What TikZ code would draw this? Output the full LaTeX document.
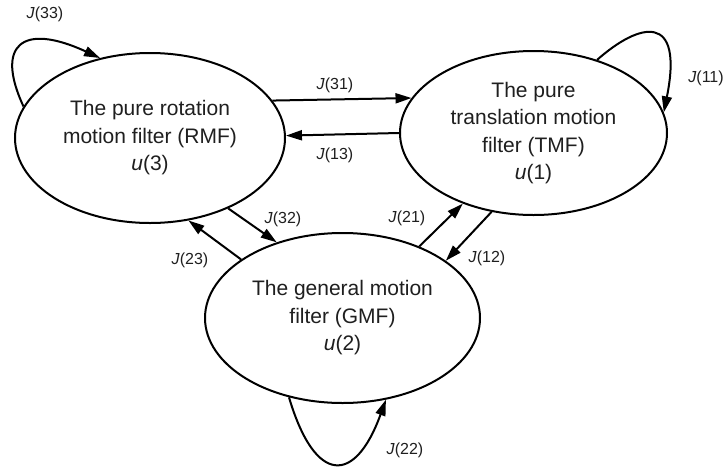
\documentclass[tikz,border=0pt]{standalone}
\usepackage{fontspec}
\setmainfont{Liberation Sans}
\usetikzlibrary{shapes.geometric,arrows.meta}
\begin{document}
\begin{tikzpicture}[x=1pt,y=-1pt,
  filt/.style={ellipse,draw,line width=2pt,inner sep=0pt,align=center,
    text=black!88,font=\fontsize{21}{27.5}\selectfont},
  lab/.style={font=\fontsize{16}{18}\selectfont,inner sep=0pt,text=black!88},
  arr/.style={line width=2pt,-{Triangle[length=16pt,width=10pt]}}]
\useasboundingbox[fill=white] (0,0) rectangle (726,469);
\node[filt,minimum width=270pt,minimum height=170pt] (RMF) at (150,138)
  {The pure rotation\\motion filter (RMF)\\\textit{u}(3)};
\node[filt,minimum width=267pt,minimum height=164pt] (TMF) at (533.5,133)
  {The pure\\translation motion\\filter (TMF)\\\textit{u}(1)};
\node[filt,minimum width=275pt,minimum height=170pt] (GMF) at (342.5,318)
  {The general motion\\filter (GMF)\\\textit{u}(2)};
% self loops
\draw[arr] (RMF.166.4) .. controls (-5,45) and (22,22) .. (RMF.122.7);
\draw[arr] (TMF.49.4) .. controls (640,22) and (684,12) .. (TMF.9.2);
\draw[arr] (GMF.236.7) .. controls (315,485) and (355,485) .. (GMF.298.8);
% straight connectors
\draw[arr] (RMF.17.5) -- (TMF.164.9);
\draw[arr] (TMF.180.4) -- (RMF.1.7);
\draw[arr] (RMF.318.2) -- (GMF.131.9);
\draw[arr] (GMF.150.2) -- (RMF.295.1);
\draw[arr] (GMF.43.5) -- (TMF.225.2);
\draw[arr] (TMF.242.6) -- (GMF.29);
% labels
\node[lab] (l33) at (45,14) {\textit{J}(33)};
\node[lab] (l31) at (335,85) {\textit{J}(31)};
\node[lab] (l13) at (335,155) {\textit{J}(13)};
\node[lab] (l11) at (706,78) {\textit{J}(11)};
\node[lab] (l32) at (283,219) {\textit{J}(32)};
\node[lab] (l23) at (190,260) {\textit{J}(23)};
\node[lab] (l21) at (407,218) {\textit{J}(21)};
\node[lab] (l12) at (487,258) {\textit{J}(12)};
\node[lab] (l22) at (405,450) {\textit{J}(22)};
\end{tikzpicture}
\end{document}
